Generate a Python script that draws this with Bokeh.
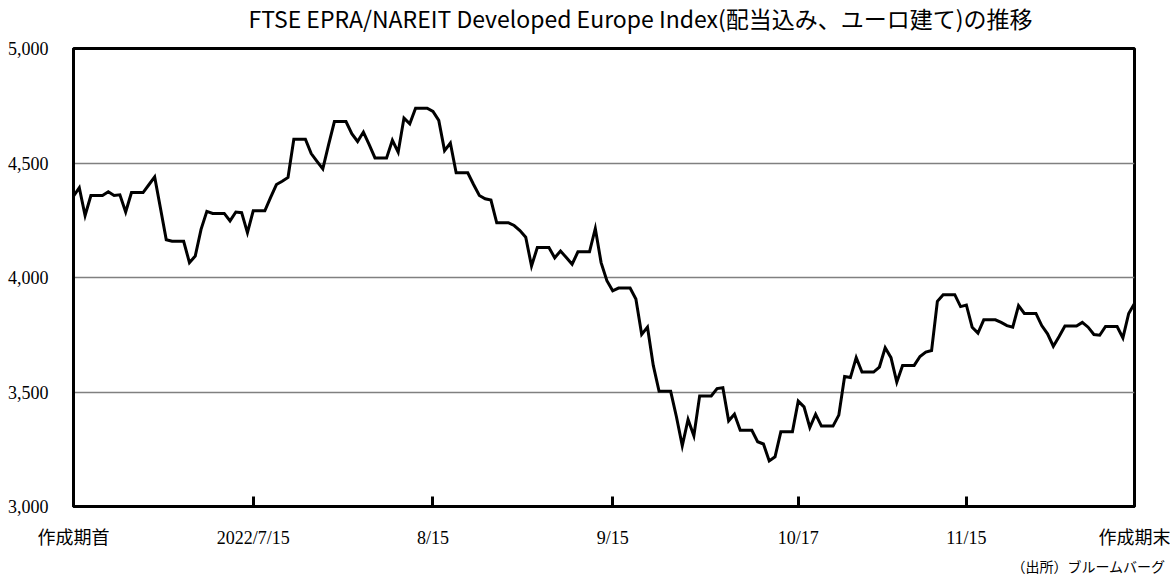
import pandas as pd
from bokeh.plotting import figure
from bokeh.models import (ColumnDataSource, Range1d, FixedTicker, NumeralTickFormatter, Title)
from bokeh.embed import file_html
from bokeh.resources import INLINE

# ---- data (daily, weekends carry the Friday value as in the original) ----
start_date = "2022-06-14"
end_date = "2022-12-14"
index_values = [
    4355, 4392, 4271, 4358, 4358, 4358, 4374, 4358, 4361, 4286,
    4371, 4371, 4371, 4405, 4439, 4302, 4165, 4158, 4158, 4158,
    4065, 4094, 4210, 4289, 4280, 4280, 4280, 4247, 4286, 4283,
    4196, 4291, 4291, 4291, 4350, 4406, 4420, 4437, 4604, 4604,
    4604, 4541, 4507, 4474, 4580, 4681, 4681, 4681, 4628, 4594,
    4635, 4580, 4522, 4522, 4522, 4599, 4547, 4696, 4671, 4739,
    4739, 4739, 4725, 4686, 4554, 4587, 4457, 4457, 4457, 4406,
    4358, 4344, 4338, 4239, 4239, 4239, 4227, 4205, 4176, 4050,
    4131, 4131, 4131, 4086, 4116, 4087, 4058, 4112, 4112, 4112,
    4214, 4065, 3986, 3942, 3954, 3954, 3954, 3906, 3751, 3783,
    3616, 3503, 3503, 3503, 3391, 3265, 3380, 3309, 3483, 3483,
    3483, 3515, 3519, 3374, 3403, 3333, 3333, 3333, 3283, 3273,
    3199, 3217, 3326, 3326, 3326, 3460, 3435, 3345, 3403, 3351,
    3351, 3351, 3399, 3568, 3563, 3650, 3587, 3587, 3587, 3609,
    3693, 3650, 3543, 3616, 3616, 3616, 3655, 3674, 3681, 3896,
    3925, 3925, 3925, 3873, 3880, 3783, 3757, 3815, 3815, 3815,
    3804, 3790, 3783, 3877, 3843, 3843, 3843, 3790, 3754, 3700,
    3742, 3788, 3788, 3788, 3804, 3783, 3751, 3748, 3786, 3786,
    3786, 3736, 3843, 3887,
]
tick_dates = ["2022-06-14", "2022-07-15", "2022-08-15", "2022-09-15",
              "2022-10-17", "2022-11-15", "2022-12-14"]
tick_labels = ["作成期首", "2022/7/15", "8/15", "9/15", "10/17", "11/15", "作成期末"]
y_ticks = [3000, 3500, 4000, 4500, 5000]
title_text = "FTSE EPRA/NAREIT Developed Europe Index(配当込み、ユーロ建て)の推移"
source_text = "（出所）ブルームバーグ"

dates = pd.date_range(start_date, end_date, freq="D")
src = ColumnDataSource(data=dict(x=dates, y=index_values))

p = figure(width=1170, height=581, x_axis_type="datetime",
           output_backend="svg", toolbar_location=None,
           min_border_left=73, min_border_right=36,
           min_border_top=47, min_border_bottom=74)
p.x_range = Range1d(dates[0], dates[-1])
p.y_range = Range1d(3000, 5000)

p.line("x", "y", source=src, line_color="black", line_width=3, line_join="miter")

p.outline_line_color = "black"
p.outline_line_width = 3
p.background_fill_color = "white"
p.border_fill_color = "white"

serif = '"Liberation Serif", "Noto Sans CJK JP"'

# x axis
tick_ms = [int(pd.Timestamp(d).value // 10**6) for d in tick_dates]
p.xaxis.ticker = FixedTicker(ticks=tick_ms)
p.xaxis.major_label_overrides = {ms: lab for ms, lab in zip(tick_ms, tick_labels)}
p.xaxis.major_tick_in = 10
p.xaxis.major_tick_out = 0
p.xaxis.major_tick_line_width = 3
p.xaxis.minor_tick_line_color = None
p.xaxis.axis_line_width = 3
p.xaxis.major_label_standoff = 21
p.xaxis.major_label_text_font = serif
p.xaxis.major_label_text_font_size = "18px"
p.xaxis.major_label_text_color = "black"
p.xgrid.grid_line_color = None

# y axis
p.yaxis.ticker = FixedTicker(ticks=y_ticks)
p.yaxis.formatter = NumeralTickFormatter(format="0,0")
p.yaxis.major_tick_line_color = None
p.yaxis.minor_tick_line_color = None
p.yaxis.axis_line_width = 3
p.yaxis.major_label_standoff = 19
p.yaxis.major_label_text_font = serif
p.yaxis.major_label_text_font_size = "18px"
p.yaxis.major_label_text_color = "black"
p.ygrid.ticker = FixedTicker(ticks=y_ticks)
p.ygrid.grid_line_color = "#808080"
p.ygrid.grid_line_width = 1.5

# spacer between frame and title, then the title above it
p.add_layout(Title(text=" ", text_font="DejaVu Sans", text_font_size="9px", standoff=0), "above")
p.add_layout(Title(text=title_text, align="left", offset=175, vertical_align="top",
                   text_font="Noto Sans CJK JP", text_font_size="23px",
                   text_font_style="normal", text_color="black", standoff=0), "above")
# source note below
p.add_layout(Title(text=source_text, align="right", offset=-31,
                   text_font=serif, text_font_size="14px",
                   text_font_style="normal", text_color="black", standoff=14), "below")

open("out.html", "w").write(file_html(p, INLINE))
